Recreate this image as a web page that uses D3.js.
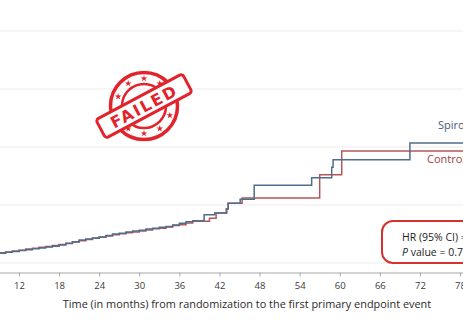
<!DOCTYPE html>
<html>
<head>
<meta charset="utf-8">
<script src="https://cdn.jsdelivr.net/npm/d3@7"></script>
<style>
  html, body { margin: 0; padding: 0; background: #fff; }
  svg { display: block; font-family: "Open Sans", "DejaVu Sans", sans-serif; }
</style>
</head>
<body>
<svg id="chart" width="463" height="328"></svg>
<script>
// ---- data ----
const spiroTime = [0,1,2,3,4,5,6,7,8,9,10,11,12,13,14,15,16,17,18,19,20,21,22,23,24,25,26,27,28,29,30,31,32,33,34,35,36,37,38,39.7,41.3,43.1,43.3,45.1,47.2,55.8,58.8,59.0,70.5,84];
const spiroRisk = [0,0.2,0.4,0.6,0.8,1.0,1.2,1.4,1.55,1.7,1.85,2.0,2.15,2.3,2.45,2.6,2.75,2.9,3.1,3.35,3.65,3.95,4.15,4.3,4.5,4.75,5.0,5.15,5.35,5.5,5.65,5.85,6.0,6.15,6.3,6.55,6.85,7.1,7.3,8.3,8.6,9.3,10.3,11.0,13.4,14.7,16.5,17.8,20.7,20.7];
const controlTime = [0,1,2,3,4,5,6,7,8,9,10,11,12,13,14,15,16,17,18,19,20,21,22,23,24,25,26,27,28,29,30,31,32,33,34,35,36,37,38,40.5,41.5,43.0,43.3,45.4,57.0,60.3,84];
const controlRisk = [0,0.25,0.45,0.65,0.85,1.05,1.25,1.45,1.6,1.75,1.9,2.05,2.2,2.4,2.55,2.7,2.85,3.0,3.2,3.4,3.6,3.85,4.05,4.25,4.45,4.65,4.85,5.05,5.2,5.35,5.5,5.7,5.9,6.0,6.2,6.45,6.6,6.9,7.2,7.7,8.6,9.3,10.3,11.2,15.2,19.3,19.3];
const xTicks = [12,18,24,30,36,42,48,54,60,66,72,78];
const yTicks = [0,10,20,30,40];
const seriesNames = ["Spironolactone", "Control"];
const statLines = ["HR (95% CI) = 1.05 (0.82–1.34)", "value = 0.76"];
const xTitle = "Time (in months) from randomization to the first primary endpoint event";

// ---- layout ----
const svg = d3.select("#chart");
const x = d3.scaleLinear().domain([0, 84]).range([-61.2, 500.1]);
const y = d3.scaleLinear().domain([0, 40]).range([263, 31]);
const blue = "#4f6d8c", red = "#b5575a";

// gridlines
svg.append("g").selectAll("line").data(yTicks).join("line")
  .attr("x1", 0).attr("x2", 463)
  .attr("y1", d => y(d)).attr("y2", d => y(d))
  .attr("stroke", "#ececec").attr("stroke-width", 1.2);

// x axis
const ax = svg.append("g").attr("transform", "translate(0,272.5)")
  .call(d3.axisBottom(x).tickValues(xTicks).tickSize(4).tickPadding(6));
ax.select(".domain").attr("stroke", "#a8a8a8");
ax.selectAll(".tick line").attr("stroke", "#a8a8a8");
ax.selectAll(".tick text").attr("fill", "#3a3a3a")
  .style("font-size", "9.5px").style("font-family", "Open Sans, sans-serif");

svg.append("text").attr("x", 247).attr("y", 308)
  .attr("text-anchor", "middle").attr("fill", "#2a2a2a")
  .style("font-size", "10.9px").text(xTitle);

// curves
const line = d3.line().curve(d3.curveStepAfter).x(d => x(d[0])).y(d => y(d[1]));
const ctrlData = d3.zip(controlTime, controlRisk);
const spiroData = d3.zip(spiroTime, spiroRisk);
svg.append("path").datum(ctrlData).attr("d", line)
  .attr("fill", "none").attr("stroke", red).attr("stroke-width", 1.5);
svg.append("path").datum(spiroData).attr("d", line)
  .attr("fill", "none").attr("stroke", blue).attr("stroke-width", 1.5);

// curve labels
svg.append("text").attr("x", 438).attr("y", 129).attr("fill", "#3f5a78")
  .style("font-size", "11px").text(seriesNames[0]);
svg.append("text").attr("x", 427).attr("y", 163).attr("fill", "#9c4244")
  .style("font-size", "11px").text(seriesNames[1]);

// stats box
svg.append("rect").attr("x", 382).attr("y", 221).attr("width", 120).attr("height", 42)
  .attr("rx", 11).attr("fill", "#fff").attr("stroke", "#d6322f").attr("stroke-width", 2);
svg.append("text").attr("x", 402).attr("y", 241).attr("fill", "#222")
  .style("font-size", "10.5px").text(statLines[0]);
const t2 = svg.append("text").attr("x", 402).attr("y", 256).attr("fill", "#222")
  .style("font-size", "10.5px");
t2.append("tspan").style("font-style", "italic").text("P");
t2.append("tspan").text(" " + statLines[1]);

// FAILED stamp (decoration)
const stampRed = "#e3232b";
const st = svg.append("g").attr("transform", "translate(144,106)");
st.append("circle").attr("r", 33.5).attr("fill", "none").attr("stroke", stampRed).attr("stroke-width", 3.5);
st.append("circle").attr("r", 22).attr("fill", "none").attr("stroke", stampRed).attr("stroke-width", 2.5);
const starPath = d3.symbol().type(d3.symbolStar).size(14);
const starAngles = [-160, -125, -90, -55, 20, 55, 90, 125];
st.selectAll("path.star").data(starAngles).join("path").attr("class", "star")
  .attr("d", starPath)
  .attr("transform", a => `translate(${27.5*Math.cos(a*Math.PI/180)},${27.5*Math.sin(a*Math.PI/180)})`)
  .attr("fill", stampRed);
const ban = st.append("g").attr("transform", "rotate(-28)");
ban.append("rect").attr("x", -49).attr("y", -10.5).attr("width", 98).attr("height", 21).attr("rx", 3)
  .attr("fill", "#fff").attr("stroke", stampRed).attr("stroke-width", 3);
ban.append("text").attr("x", 0).attr("y", 6).attr("text-anchor", "middle")
  .attr("fill", stampRed).style("font-size", "16px").style("font-weight", "bold")
  .style("letter-spacing", "2px").style("font-family", "DejaVu Sans, sans-serif").text("FAILED");
</script>
</body>
</html>
